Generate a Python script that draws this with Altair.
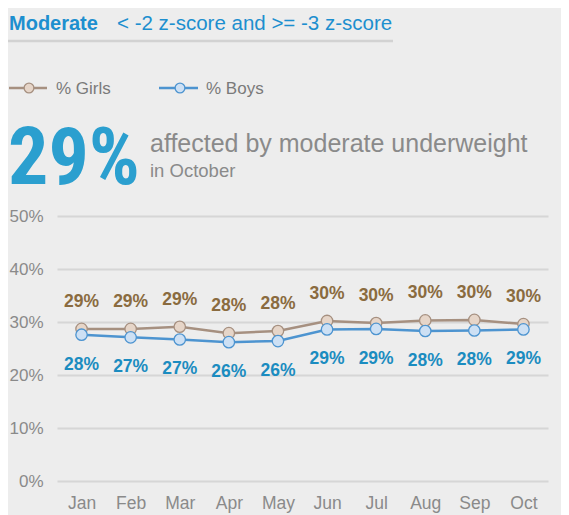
import altair as alt
import pandas as pd

months = ["Jan", "Feb", "Mar", "Apr", "May", "Jun", "Jul", "Aug", "Sep", "Oct"]
girls = [28.7, 28.7, 29.1, 27.9, 28.3, 30.2, 29.8, 30.3, 30.4, 29.6]
boys = [27.6, 27.1, 26.7, 26.2, 26.4, 28.6, 28.7, 28.3, 28.4, 28.6]
series_names = ["% Girls", "% Boys"]
y_ticks = [0, 10, 20, 30, 40, 50]

title_text = "Moderate"
subtitle_text = "< -2 z-score and >= -3 z-score"
big_value = "29%"
big_caption = "affected by moderate underweight"
big_caption2 = "in October"

GIRL_LINE = "#a69080"
GIRL_FILL = "#e6d5c8"
GIRL_LABEL = "#8a6b3f"
BOY_LINE = "#4d94d0"
BOY_FILL = "#cde0f4"
BOY_LABEL = "#1b8cc0"
BLUE = "#1d8fcf"
BG = "#ededed"

PLOT_W = 491
PLOT_H = 265
LEFT = 49   # 57 - 8 page margin
TOP = 208   # 216 - 8

rows = []
for m, g, b in zip(months, girls, boys):
    rows.append({"month": m, "series": series_names[0], "value": g})
    rows.append({"month": m, "series": series_names[1], "value": b})
df = pd.DataFrame(rows)

one = alt.Data(values=[{"k": 1}])

x_enc = alt.X("month:O", sort=months, scale=alt.Scale(padding=0.5),
              axis=alt.Axis(title=None, labelAngle=0, labelColor="#8a8a8a", labelFontSize=17.5,
                            labelFont="Liberation Sans", labelPadding=13, domain=False, ticks=False,
                            grid=False))
y_enc = alt.Y("value:Q", scale=alt.Scale(domain=[0, 50]),
              axis=alt.Axis(title=None, values=y_ticks, labelExpr="datum.value + '%'",
                            labelColor="#8a8a8a", labelFontSize=17, labelFont="Liberation Sans",
                            labelPadding=14, domain=False, ticks=False, grid=True,
                            gridColor="#d6d6d6", gridWidth=2))
color_scale = alt.Scale(domain=series_names, range=[GIRL_LINE, BOY_LINE])

base = alt.Chart(df)

lines = base.mark_line(strokeWidth=2.5).encode(
    x=x_enc, y=y_enc,
    color=alt.Color("series:N", scale=color_scale, legend=None),
    detail="series:N",
)
points = base.mark_point(filled=False, size=130, strokeWidth=1.3, opacity=1).encode(
    x=alt.X("month:O", sort=months), y="value:Q",
    stroke=alt.Color("series:N", scale=color_scale, legend=None),
    fill=alt.Color("series:N", scale=alt.Scale(domain=series_names, range=[GIRL_FILL, BOY_FILL]), legend=None),
)
girl_labels = base.transform_filter(alt.datum.series == series_names[0]).transform_calculate(
    lab="round(datum.value) + '%'"
).mark_text(dy=-27, fontSize=17.5, fontWeight="bold", font="Liberation Sans", color=GIRL_LABEL).encode(
    x=alt.X("month:O", sort=months), y="value:Q", text="lab:N")
boy_labels = base.transform_filter(alt.datum.series == series_names[1]).transform_calculate(
    lab="round(datum.value) + '%'"
).mark_text(dy=30, fontSize=17.5, fontWeight="bold", font="Liberation Sans", color=BOY_LABEL).encode(
    x=alt.X("month:O", sort=months), y="value:Q", text="lab:N")

def txt(text, x, y, size, color, weight="normal", font="Liberation Sans"):
    return alt.Chart(one).mark_text(text=text, align="left", baseline="alphabetic", fontSize=size,
                                    fontWeight=weight, font=font, color=color).encode(
        x=alt.value(x - 57), y=alt.value(y - 216))

title = txt(title_text, 9, 30, 20, BLUE, "bold")
subtitle = txt(subtitle_text, 117, 30, 20.5, BLUE)
underline = alt.Chart(one).mark_rule(color="#d2d2d2", strokeWidth=2.5).encode(
    x=alt.value(8 - 57), x2=alt.value(393 - 57), y=alt.value(41 - 216))

leg_g_line = alt.Chart(one).mark_rule(color=GIRL_LINE, strokeWidth=2.5).encode(
    x=alt.value(9 - 57), x2=alt.value(47 - 57), y=alt.value(88 - 216))
leg_g_pt = alt.Chart(one).mark_point(filled=False, size=95, stroke=GIRL_LINE, fill=GIRL_FILL,
                                     strokeWidth=1.3, opacity=1).encode(
    x=alt.value(29 - 57), y=alt.value(88 - 216))
leg_g_txt = txt(series_names[0], 56, 94, 17, "#7a7a7a")
leg_b_line = alt.Chart(one).mark_rule(color=BOY_LINE, strokeWidth=2.5).encode(
    x=alt.value(159 - 57), x2=alt.value(198 - 57), y=alt.value(88 - 216))
leg_b_pt = alt.Chart(one).mark_point(filled=False, size=95, stroke=BOY_LINE, fill=BOY_FILL,
                                     strokeWidth=1.3, opacity=1).encode(
    x=alt.value(180 - 57), y=alt.value(88 - 216))
leg_b_txt = txt(series_names[1], 206, 94, 17, "#7a7a7a")

big = txt(big_value, 8, 184, 80, "#2b9fcf", "bold", font="Roboto Condensed, Roboto")
cap1 = txt(big_caption, 150, 152, 25, "#8a8a8a")
cap2 = txt(big_caption2, 150, 177, 18.5, "#8a8a8a")

chart = alt.layer(
    lines, points, girl_labels, boy_labels,
    title, subtitle, underline,
    leg_g_line, leg_g_pt, leg_g_txt, leg_b_line, leg_b_pt, leg_b_txt,
    big, cap1, cap2,
).properties(
    width=PLOT_W, height=PLOT_H,
    autosize=alt.AutoSizeParams(type="none"),
    padding={"left": LEFT, "top": TOP, "right": 13, "bottom": 34},
    background=BG,
).configure_view(stroke=None)

chart.save("out.html", embed_options={"renderer": "svg", "actions": False})
